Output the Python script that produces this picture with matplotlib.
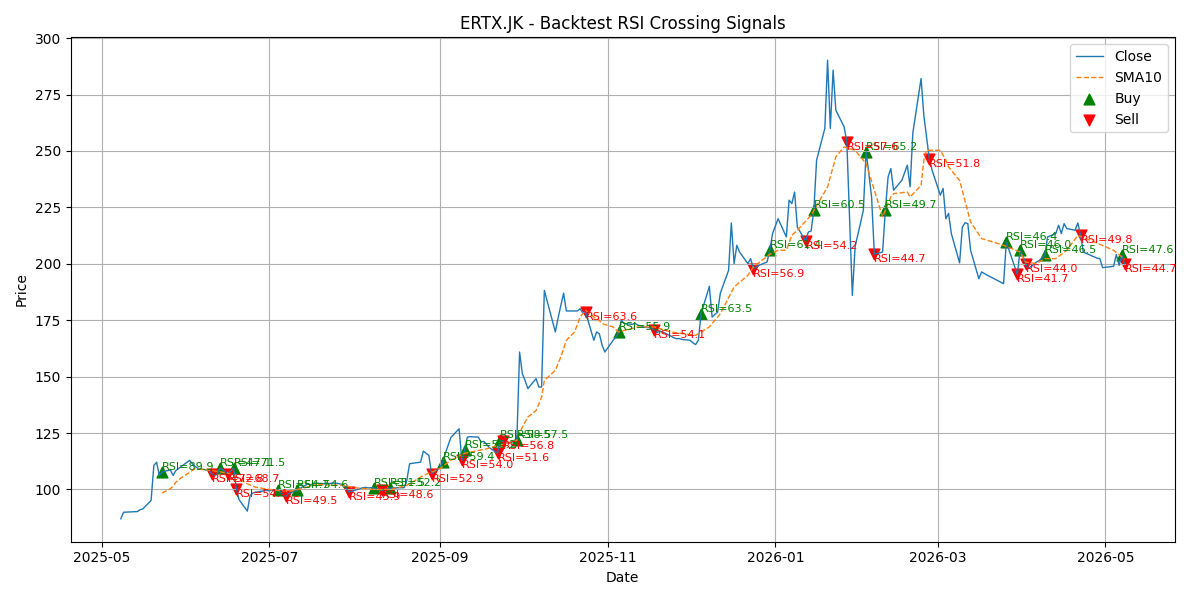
import pandas as pd
import matplotlib
matplotlib.use("Agg")
import matplotlib.pyplot as plt

ticker = "ERTX.JK"

# Close prices
close_dates = [
    "2025-05-08", "2025-05-09", "2025-05-14", "2025-05-15", "2025-05-16", "2025-05-19",
    "2025-05-20", "2025-05-21", "2025-05-22", "2025-05-23", "2025-05-26", "2025-05-27",
    "2025-05-28", "2025-06-02", "2025-06-03", "2025-06-04", "2025-06-05", "2025-06-09",
    "2025-06-10", "2025-06-11", "2025-06-12", "2025-06-13", "2025-06-16", "2025-06-17",
    "2025-06-18", "2025-06-19", "2025-06-20", "2025-06-23", "2025-06-24", "2025-06-25",
    "2025-06-26", "2025-06-30", "2025-07-01", "2025-07-02", "2025-07-03", "2025-07-04",
    "2025-07-07", "2025-07-08", "2025-07-09", "2025-07-10", "2025-07-11", "2025-07-14",
    "2025-07-15", "2025-07-16", "2025-07-17", "2025-07-18", "2025-07-21", "2025-07-22",
    "2025-07-23", "2025-07-24", "2025-07-25", "2025-07-28", "2025-07-29", "2025-07-30",
    "2025-07-31", "2025-08-01", "2025-08-04", "2025-08-05", "2025-08-06", "2025-08-07",
    "2025-08-08", "2025-08-11", "2025-08-12", "2025-08-13", "2025-08-14", "2025-08-15",
    "2025-08-19", "2025-08-20", "2025-08-21", "2025-08-22", "2025-08-25", "2025-08-26",
    "2025-08-27", "2025-08-28", "2025-08-29", "2025-09-01", "2025-09-02", "2025-09-03",
    "2025-09-04", "2025-09-05", "2025-09-08", "2025-09-09", "2025-09-10", "2025-09-11",
    "2025-09-12", "2025-09-15", "2025-09-16", "2025-09-17", "2025-09-18", "2025-09-19",
    "2025-09-22", "2025-09-23", "2025-09-24", "2025-09-25", "2025-09-26", "2025-09-29",
    "2025-09-30", "2025-10-01", "2025-10-02", "2025-10-03", "2025-10-06", "2025-10-07",
    "2025-10-08", "2025-10-09", "2025-10-13", "2025-10-14", "2025-10-15", "2025-10-16",
    "2025-10-17", "2025-10-20", "2025-10-21", "2025-10-22", "2025-10-23", "2025-10-24",
    "2025-10-27", "2025-10-28", "2025-10-29", "2025-10-30", "2025-10-31", "2025-11-03",
    "2025-11-04", "2025-11-05", "2025-11-06", "2025-11-07", "2025-11-10", "2025-11-11",
    "2025-11-12", "2025-11-13", "2025-11-14", "2025-11-17", "2025-11-18", "2025-11-19",
    "2025-11-20", "2025-11-21", "2025-11-24", "2025-11-25", "2025-11-26", "2025-11-27",
    "2025-11-28", "2025-12-01", "2025-12-02", "2025-12-03", "2025-12-04", "2025-12-05",
    "2025-12-08", "2025-12-09", "2025-12-10", "2025-12-11", "2025-12-12", "2025-12-15",
    "2025-12-16", "2025-12-17", "2025-12-18", "2025-12-19", "2025-12-22", "2025-12-23",
    "2025-12-24", "2025-12-26", "2025-12-29", "2025-12-30", "2025-12-31", "2026-01-02",
    "2026-01-05", "2026-01-06", "2026-01-07", "2026-01-08", "2026-01-09", "2026-01-12",
    "2026-01-13", "2026-01-14", "2026-01-15", "2026-01-16", "2026-01-19", "2026-01-20",
    "2026-01-21", "2026-01-22", "2026-01-23", "2026-01-26", "2026-01-27", "2026-01-29",
    "2026-01-30", "2026-02-02", "2026-02-03", "2026-02-04", "2026-02-05", "2026-02-06",
    "2026-02-09", "2026-02-10", "2026-02-11", "2026-02-12", "2026-02-13", "2026-02-16",
    "2026-02-18", "2026-02-19", "2026-02-20", "2026-02-23", "2026-02-24", "2026-02-25",
    "2026-02-26", "2026-02-27", "2026-03-02", "2026-03-03", "2026-03-04", "2026-03-05",
    "2026-03-06", "2026-03-09", "2026-03-10", "2026-03-11", "2026-03-12", "2026-03-13",
    "2026-03-16", "2026-03-17", "2026-03-18", "2026-03-19", "2026-03-25", "2026-03-26",
    "2026-03-27", "2026-03-30", "2026-03-31", "2026-04-01", "2026-04-02", "2026-04-03",
    "2026-04-06", "2026-04-07", "2026-04-08", "2026-04-09", "2026-04-10", "2026-04-13",
    "2026-04-14", "2026-04-15", "2026-04-16", "2026-04-17", "2026-04-20", "2026-04-21",
    "2026-04-22", "2026-04-23", "2026-04-27", "2026-04-28", "2026-04-29", "2026-04-30",
    "2026-05-04", "2026-05-05", "2026-05-06", "2026-05-07", "2026-05-08",
]
close_values = [
    87.0, 89.9, 90.2, 91.0, 91.4, 95.1,
    110.6, 112.1, 106.2, 107.7, 108.7, 106.2,
    108.4, 112.9, 111.4, 110.2, 109.4, 108.4,
    107.0, 106.2, 106.8, 109.5, 107.0, 108.2,
    109.5, 100.3, 95.5, 90.4, 97.3, 98.4,
    98.8, 99.6, 99.4, 99.8, 99.5, 99.9,
    96.9, 98.2, 98.8, 99.0, 99.6, 101.8,
    102.4, 102.0, 102.6, 102.8, 102.5, 102.8,
    102.6, 102.9, 102.8, 102.2, 100.5, 98.8,
    99.2, 99.6, 100.8, 100.9, 100.7, 100.8,
    100.6, 99.6, 100.0, 100.2, 100.6, 100.7,
    100.8, 104.0, 111.4, 111.6, 112.1, 117.0,
    116.0, 115.1, 107.0, 109.5, 112.1, 116.0,
    119.5, 123.0, 126.9, 112.9, 117.3, 123.2,
    123.4, 123.2, 121.0, 121.3, 120.0, 118.5,
    116.1, 121.7, 121.4, 120.8, 120.5, 121.7,
    160.9, 151.3, 148.3, 144.7, 149.1, 145.4,
    145.4, 188.2, 169.8, 176.0, 181.5, 187.0,
    179.1, 179.1, 179.1, 180.1, 178.2, 178.6,
    166.1, 169.8, 169.0, 164.0, 160.9, 166.1,
    167.5, 169.8, 175.0, 173.5, 173.2, 173.6,
    172.8, 172.5, 172.0, 171.5, 170.8, 169.5,
    170.2, 169.8, 168.0, 167.3, 166.8, 166.9,
    166.5, 166.1, 165.0, 164.2, 166.1, 177.9,
    190.0, 176.4, 177.5, 178.6, 187.0, 197.1,
    218.1, 200.1, 208.2, 205.2, 200.1, 202.3,
    197.9, 199.3, 200.8, 206.0, 213.4, 220.0,
    211.9, 228.2, 226.7, 231.8, 216.3, 210.1,
    214.1, 214.5, 223.7, 245.9, 260.0, 290.2,
    260.0, 285.8, 268.1, 260.7, 254.0, 186.0,
    207.5, 223.7, 249.6, 240.0, 229.6, 204.2,
    205.2, 223.7, 238.5, 242.2, 232.6, 237.0,
    243.7, 234.1, 258.0, 282.1, 265.7, 256.2,
    246.4, 241.5, 230.4, 233.4, 220.0, 222.3,
    213.4, 200.4, 216.3, 218.2, 217.8, 206.0,
    193.4, 196.4, 195.7, 195.0, 191.2, 209.7,
    206.0, 195.3, 206.0, 203.5, 200.1, 197.9,
    200.8, 201.5, 202.5, 203.8, 211.9, 213.4,
    217.1, 213.4, 217.8, 215.6, 214.9, 218.1,
    212.6, 205.2, 203.0, 202.5, 202.3, 198.3,
    198.9, 204.1, 199.3, 203.8, 200.1,
]

# 10-day SMA
sma_dates = [
    "2025-05-23", "2025-05-26", "2025-05-27", "2025-05-28", "2025-05-30", "2025-06-03",
    "2025-06-04", "2025-06-10", "2025-06-16", "2025-06-19", "2025-06-23", "2025-06-26",
    "2025-07-03", "2025-07-08", "2025-07-14", "2025-07-18", "2025-07-28", "2025-08-01",
    "2025-08-08", "2025-08-14", "2025-08-20", "2025-08-26", "2025-09-01", "2025-09-05",
    "2025-09-10", "2025-09-18", "2025-09-22", "2025-09-29", "2025-09-30", "2025-10-01",
    "2025-10-03", "2025-10-06", "2025-10-08", "2025-10-09", "2025-10-13", "2025-10-15",
    "2025-10-17", "2025-10-20", "2025-10-22", "2025-10-24", "2025-10-27", "2025-10-29",
    "2025-10-30", "2025-11-03", "2025-11-05", "2025-11-12", "2025-11-18", "2025-11-24",
    "2025-12-03", "2025-12-08", "2025-12-12", "2025-12-17", "2025-12-22", "2025-12-24",
    "2025-12-30", "2026-01-02", "2026-01-05", "2026-01-07", "2026-01-09", "2026-01-14",
    "2026-01-20", "2026-01-23", "2026-01-26", "2026-01-30", "2026-02-03", "2026-02-06",
    "2026-02-09", "2026-02-12", "2026-02-13", "2026-02-18", "2026-02-19", "2026-02-23",
    "2026-02-24", "2026-02-25", "2026-03-02", "2026-03-04", "2026-03-05", "2026-03-09",
    "2026-03-13", "2026-03-17", "2026-03-25", "2026-03-31", "2026-04-02", "2026-04-06",
    "2026-04-09", "2026-04-13", "2026-04-17", "2026-04-21", "2026-04-27", "2026-05-04",
    "2026-05-07", "2026-05-08",
]
sma_values = [
    98.4, 100.3, 101.5, 103.2, 105.2, 108.4,
    109.2, 108.4, 107.2, 105.5, 102.5, 101.0,
    99.6, 99.1, 100.8, 102.2, 101.8, 100.8,
    100.0, 100.0, 101.8, 106.2, 109.2, 113.0,
    116.0, 118.0, 119.5, 121.7, 125.0, 127.6,
    132.1, 135.0, 140.9, 148.3, 152.8, 158.7,
    166.1, 169.8, 176.4, 179.4, 176.4, 174.9,
    173.5, 172.0, 169.8, 172.0, 172.0, 169.8,
    168.3, 172.0, 177.9, 189.7, 194.9, 198.6,
    204.2, 206.0, 206.0, 212.6, 214.9, 221.5,
    234.1, 247.4, 251.8, 250.3, 244.4, 232.6,
    220.8, 229.6, 231.1, 231.8, 229.6, 234.8,
    245.9, 250.3, 250.3, 245.9, 242.9, 237.0,
    218.5, 211.2, 208.2, 205.2, 200.8, 200.1,
    202.3, 202.3, 206.0, 212.6, 209.7, 206.0,
    203.0, 202.0,
]

# Signals
buy_dates = [
    "2025-05-23", "2025-06-13", "2025-06-18", "2025-07-04", "2025-07-11", "2025-08-08",
    "2025-08-14", "2025-09-02", "2025-09-10", "2025-09-23", "2025-09-29", "2025-11-05",
    "2025-12-05", "2025-12-30", "2026-01-15", "2026-02-03", "2026-02-10", "2026-03-26",
    "2026-03-31", "2026-04-09", "2026-05-07",
]
buy_prices = [
    107.7, 109.5, 109.5, 99.9, 99.6, 100.6,
    100.6, 112.1, 117.3, 121.7, 121.7, 169.8,
    177.9, 206.0, 223.7, 249.6, 223.7, 209.7,
    206.0, 203.8, 203.8,
]
buy_rsi = [
    89.9, 47.1, 71.5, 54.7, 54.6, 51.5,
    52.2, 59.4, 56.2, 58.5, 57.5, 55.9,
    63.5, 61.4, 60.5, 65.2, 49.7, 46.4,
    46.0, 46.5, 47.6,
]

sell_dates = [
    "2025-06-10", "2025-06-16", "2025-06-19", "2025-07-07", "2025-07-30", "2025-08-11",
    "2025-08-29", "2025-09-09", "2025-09-22", "2025-09-24", "2025-10-24", "2025-11-18",
    "2025-12-24", "2026-01-12", "2026-01-27", "2026-02-06", "2026-02-26", "2026-03-30",
    "2026-04-02", "2026-04-22", "2026-05-08",
]
sell_prices = [
    107.0, 107.0, 100.3, 96.9, 98.8, 99.6,
    107.0, 112.9, 116.1, 121.4, 178.6, 170.8,
    197.9, 210.1, 254.0, 204.2, 246.4, 195.3,
    200.1, 212.6, 200.1,
]
sell_rsi = [
    72.8, 68.7, 54.4, 49.5, 45.9, 48.6,
    52.9, 54.0, 51.6, 56.8, 63.6, 54.1,
    56.9, 54.2, 57.6, 44.7, 51.8, 41.7,
    44.0, 49.8, 44.7,
]

close = pd.Series(close_values, index=pd.to_datetime(close_dates))
sma = pd.Series(sma_values, index=pd.to_datetime(sma_dates))
buy_idx = pd.to_datetime(buy_dates)
sell_idx = pd.to_datetime(sell_dates)

plt.figure(figsize=(12, 6))
plt.plot(close.index, close.values, label="Close", linewidth=1)
plt.plot(sma.index, sma.values, "--", label="SMA10", linewidth=1)
plt.scatter(buy_idx, buy_prices, marker="^", color="green", label="Buy", s=60)
plt.scatter(sell_idx, sell_prices, marker="v", color="red", label="Sell", s=60)

# RSI annotations next to each signal
for d, p, r in zip(buy_idx, buy_prices, buy_rsi):
    plt.text(d, p, f"RSI={r:.1f}", color="green", fontsize=8, va="bottom")
for d, p, r in zip(sell_idx, sell_prices, sell_rsi):
    plt.text(d, p, f"RSI={r:.1f}", color="red", fontsize=8, va="top")

plt.title(f"{ticker} - Backtest RSI Crossing Signals")
plt.xlabel("Date")
plt.ylabel("Price")
plt.legend(loc="upper right")
plt.grid(True)
plt.tight_layout()
plt.savefig("out.png", dpi=100)
